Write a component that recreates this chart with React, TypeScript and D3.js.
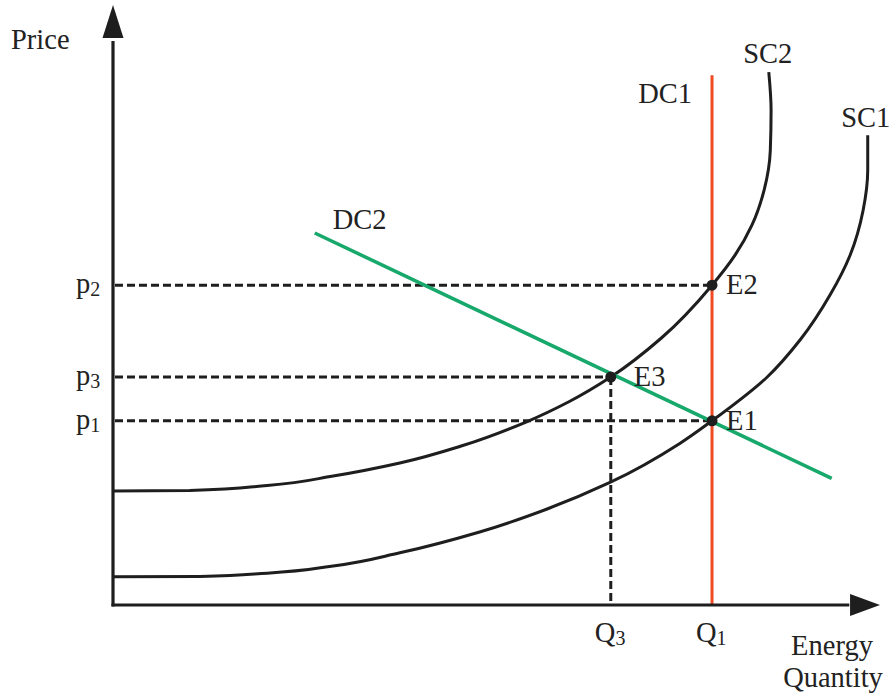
import React from "react";
import * as d3 from "d3";

// Supply curves (quantity, price) in chart units
const sc2Points: [number, number][] = [
  [0, 19.0], [10.0, 19.07], [20.1, 19.92], [28.7, 21.5], [37.4, 23.67], [45.6, 26.58],
  [54.0, 30.58], [59.5, 33.92], [64.9, 38.0], [71.5, 44.5], [78.1, 53.3], [81.1, 58.3],
  [83.3, 63.3], [84.9, 69.2], [85.7, 75.8], [85.8, 82.5], [85.5, 88.8],
];
const sc1Points: [number, number][] = [
  [0, 4.7], [11.3, 4.75], [20.1, 5.3], [28.7, 6.5], [37.4, 8.7], [47.8, 12.17],
  [56.6, 16.0], [64.8, 20.42], [73.9, 26.92], [78.1, 30.7], [85.3, 38.0], [89.6, 44.2],
  [93.5, 51.7], [96.1, 58.3], [97.8, 65.8], [98.4, 72.5], [98.4, 78.3],
];
// Demand curves
const dc2Points: [number, number][] = [[26.3, 62.0], [93.7, 21.1]];
const dc1Points: [number, number][] = [[78.1, 0], [78.1, 88.3]];

// Equilibria
const equilibria = [
  { name: "E2", q: 78.1, p: 53.3 },
  { name: "E3", q: 64.9, p: 38.0 },
  { name: "E1", q: 78.1, p: 30.7 },
];
const priceTicks = [
  { base: "p", sub: "2", value: 53.3 },
  { base: "p", sub: "3", value: 38.0 },
  { base: "p", sub: "1", value: 30.7 },
];
const quantityTicks = [
  { base: "Q", sub: "3", value: 64.9 },
  { base: "Q", sub: "1", value: 78.1 },
];
const curveLabels = [
  { text: "SC2", q: 85.5, p: 88.8 },
  { text: "SC1", q: 98.4, p: 78.3 },
  { text: "DC1", q: 78.1, p: 88.3 },
  { text: "DC2", q: 26.3, p: 62.0 },
];

const W = 893;
const H = 695;
const FONT = "'Liberation Serif', 'Times New Roman', serif";
const INK = "#1e1e1e";
const RED = "#ef4a22";
const GREEN = "#17a86b";
const FS = 28.5;
const SUB = 20;

export default function App() {
  const x = d3.scaleLinear().domain([0, 100]).range([113, 880]);
  const y = d3.scaleLinear().domain([0, 100]).range([605, 5]);

  // price rises steadily along each supply curve, so interpolate x as a function of y
  const smooth = d3
    .line<[number, number]>()
    .x((d) => x(d[0]))
    .y((d) => y(d[1]))
    .curve(d3.curveMonotoneY);
  const straight = d3
    .line<[number, number]>()
    .x((d) => x(d[0]))
    .y((d) => y(d[1]));

  const x0 = x(0);
  const y0 = y(0);

  const labelPos: Record<string, { dx: number; dy: number; anchor: string }> = {
    SC2: { dx: -1, dy: -9, anchor: "middle" },
    SC1: { dx: -2, dy: -8, anchor: "middle" },
    DC1: { dx: -20, dy: 28, anchor: "end" },
    DC2: { dx: 18, dy: -4, anchor: "start" },
  };

  return (
    <div style={{ position: "fixed", left: 0, top: 0 }}>
      <svg width={W} height={H} style={{ display: "block", background: "#fff" }}>
        {/* guide lines */}
        <g stroke={INK} strokeWidth={3} strokeDasharray="8 4" fill="none">
          {equilibria.map((e) => (
            <line key={"h" + e.name} x1={x0 + 2} x2={x(e.q)} y1={y(e.p)} y2={y(e.p)} />
          ))}
          <line x1={x(64.9)} x2={x(64.9)} y1={y(38.0)} y2={y0} />
        </g>

        {/* supply curves */}
        <path d={smooth(sc2Points) ?? ""} fill="none" stroke={INK} strokeWidth={3} />
        <path d={smooth(sc1Points) ?? ""} fill="none" stroke={INK} strokeWidth={3} />

        {/* demand curves */}
        <path d={straight(dc2Points) ?? ""} fill="none" stroke={GREEN} strokeWidth={3.5} />
        <path d={straight(dc1Points) ?? ""} fill="none" stroke={RED} strokeWidth={3} />

        {/* axes */}
        <line x1={x0} x2={x0} y1={y0 + 1.5} y2={y(94)} stroke={INK} strokeWidth={3.2} />
        <line x1={x0 - 1.5} x2={x(96)} y1={y0} y2={y0} stroke={INK} strokeWidth={3.2} />
        <path
          d={`M${x0},${y(100)} L${x0 + 10.5},${y(94.5)} L${x0 - 10.5},${y(94.5)} Z`}
          fill={INK}
        />
        <path
          d={`M${x(100)},${y0} L${x(96.1)},${y0 - 11} L${x(96.1)},${y0 + 11} Z`}
          fill={INK}
        />

        {/* equilibrium points */}
        {equilibria.map((e) => (
          <circle key={e.name} cx={x(e.q)} cy={y(e.p)} r={5.5} fill={INK} />
        ))}

        <g fontFamily={FONT} fill="#222" fontSize={FS}>
          {equilibria.map((e) => (
            <text
              key={"t" + e.name}
              x={x(e.q) + (e.name === "E3" ? 23 : 14)}
              y={y(e.p) + 9}
            >
              {e.name}
            </text>
          ))}

          {curveLabels.map((c) => {
            const pos = labelPos[c.text];
            return (
              <text key={c.text} x={x(c.q) + pos.dx} y={y(c.p) + pos.dy} textAnchor={pos.anchor}>
                {c.text}
              </text>
            );
          })}

          {priceTicks.map((t) => (
            <text key={t.base + t.sub} x={x0 - 37} y={y(t.value) + 8}>
              {t.base}
              <tspan fontSize={SUB} dy={3}>{t.sub}</tspan>
            </text>
          ))}

          {quantityTicks.map((t) => (
            <text key={t.base + t.sub} x={x(t.value) - 16} y={y0 + 37}>
              {t.base}
              <tspan fontSize={SUB} dy={3}>{t.sub}</tspan>
            </text>
          ))}

          <text x={11} y={49}>Price</text>
          <text x={832} y={y0 + 50} textAnchor="middle">Energy</text>
          <text x={833} y={y0 + 82} textAnchor="middle">Quantity</text>
        </g>
      </svg>
    </div>
  );
}
